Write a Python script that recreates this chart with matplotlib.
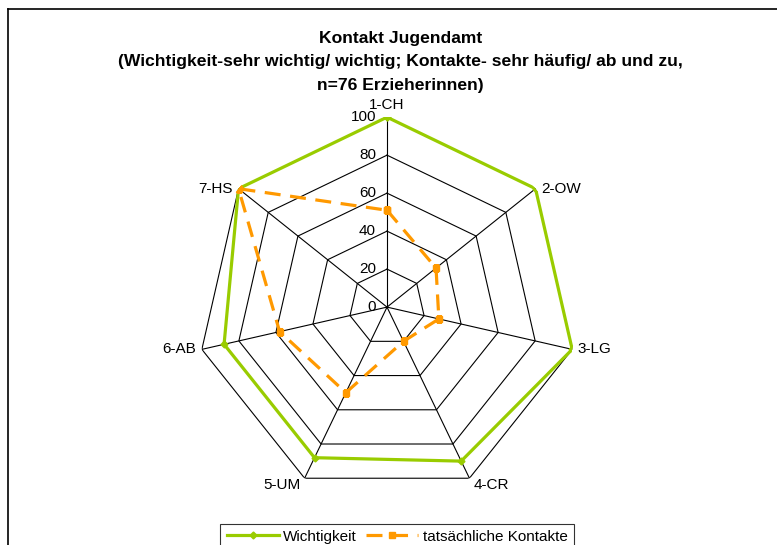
import numpy as np
import matplotlib
matplotlib.use("Agg")
import matplotlib.pyplot as plt
from matplotlib.lines import Line2D

plt.rcParams['font.family'] = ['Liberation Sans', 'DejaVu Sans']

# --- Daten ---
kategorien = ["1-CH", "2-OW", "3-LG", "4-CR", "5-UM", "6-AB", "7-HS"]
wichtigkeit = [100, 100, 100, 90, 88, 88, 100]
kontakte = [51, 33, 28, 20, 50, 58, 100]
ringe = [20, 40, 60, 80, 100]
tick_werte = [0, 20, 40, 60, 80, 100]

GRUEN = "#99CC00"
ORANGE = "#FF9900"

n = len(kategorien)
winkel = np.linspace(0, 2 * np.pi, n, endpoint=False)
winkel_zu = np.append(winkel, winkel[0])

fig = plt.figure(figsize=(7.77, 5.45), dpi=100)
ax = fig.add_axes([0.2536, 0.088, 0.489, 0.697], projection="polar")
ax.set_theta_offset(np.pi / 2)
ax.set_theta_direction(-1)
ax.set_ylim(0, 100)
ax.grid(False)
ax.spines["polar"].set_visible(False)
ax.set_xticks([])
ax.set_yticks([])
ax.patch.set_alpha(0)

# Netz (Siebeneck)
for r in ringe:
    ax.plot(winkel_zu, [r] * (n + 1), color="black", lw=0.8, zorder=1)
for w in winkel:
    ax.plot([w, w], [0, 100], color="black", lw=0.8, zorder=1)

# Achsenbeschriftung 0..100
for t in tick_werte:
    ax.annotate(str(t), xy=(0, t), xytext=(-8, 0), textcoords="offset points",
                ha="right", va="center", fontsize=11)

# Datenreihen
ax.plot(winkel_zu, np.append(wichtigkeit, wichtigkeit[0]), color=GRUEN, lw=2.3,
        marker="D", markersize=3.5, zorder=3)
ax.plot(winkel_zu, np.append(kontakte, kontakte[0]), color=ORANGE, lw=2.3,
        dashes=(5, 3), marker="s", markersize=5, zorder=4)

# Kategorien
offsets = [(0, 4, "center", "bottom"), (4, 0, "left", "center"), (4, 0, "left", "center"),
           (3, -5, "left", "center"), (-3, -5, "right", "center"),
           (-4, 0, "right", "center"), (-4, 0, "right", "center")]
for w, name, (dx, dy, ha, va) in zip(winkel, kategorien, offsets):
    ax.annotate(name, xy=(w, 100), xytext=(dx, dy), textcoords="offset points",
                ha=ha, va=va, fontsize=11)

# Titel
fig.text(0.515, 1 - 31 / 545, "Kontakt Jugendamt\n(Wichtigkeit-sehr wichtig/ wichtig; Kontakte- sehr häufig/ ab und zu,\nn=76 Erzieherinnen)",
         ha="center", va="top", fontsize=12.6, fontweight="bold", linespacing=1.7)

# Rahmen (oben und links)
fig.add_artist(Line2D([8 / 777, 1], [1 - 9 / 545] * 2, color="black", lw=1.2))
fig.add_artist(Line2D([8 / 777] * 2, [0, 1 - 9 / 545], color="black", lw=1.2))

# Legende
handles = [Line2D([], [], color=GRUEN, lw=2.3, marker="D", markersize=3.5),
           Line2D([], [], color=ORANGE, lw=2.3, dashes=(5, 3), marker="s", markersize=5)]
leg = fig.legend(handles, ["Wichtigkeit", "tatsächliche Kontakte"], loc="upper center",
                 bbox_to_anchor=(397 / 777, 1 - 516 / 545), ncol=2, fontsize=11,
                 frameon=True, fancybox=False, edgecolor="black", borderpad=0.4,
                 handlelength=3.4, columnspacing=0.6, handletextpad=0.3)
leg.get_frame().set_linewidth(0.8)

fig.savefig("out.png", dpi=100)
